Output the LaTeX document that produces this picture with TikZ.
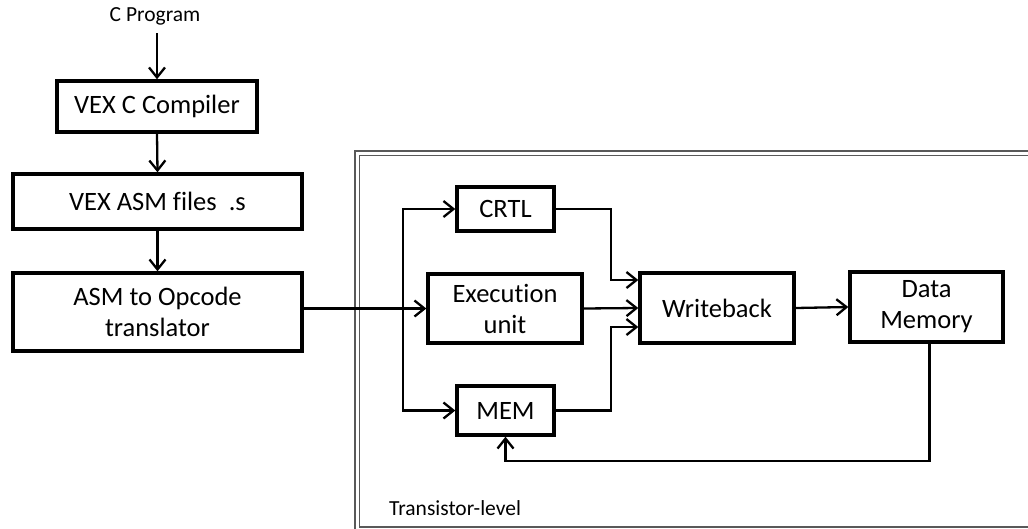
\documentclass[tikz,border=0pt]{standalone}
\usepackage{fontspec}
\setmainfont{Carlito}[Ligatures={NoCommon}]
\usetikzlibrary{arrows.meta}
\begin{document}
\begin{tikzpicture}[x=1pt,y=-1pt,
  blk/.style={draw=black,line width=3.4pt,fill=white,align=center,inner sep=0pt,
    font=\fontsize{26.5}{31}\selectfont},
  lbl/.style={font=\fontsize{21.5}{25}\selectfont,inner sep=0pt},
  arr/.style={line width=2.3pt,-{Straight Barb[length=10pt,width=16pt,line width=2.3pt]}},
  frameline/.style={draw=black!65,line width=1.4pt}]
\useasboundingbox (0,0) rectangle (1028,528);
\begin{scope}
\clip (0,0) rectangle (1028,528);
\draw[frameline] (355,151) rectangle (1040,531);
\draw[frameline] (359.5,155.5) rectangle (1036,527);
\end{scope}
% left chain
\node[lbl,anchor=base] (cprog) at (155,21.5) {C Program};
\coordinate (cpout) at (157,33);
\node[blk,minimum width=200pt,minimum height=51pt] (comp) at (157,106.5) {VEX C Compiler};
\node[blk,minimum width=289pt,minimum height=55pt] (asmf) at (157.5,201.5) {VEX ASM files\ \ .s};
\node[blk,minimum width=289pt,minimum height=78pt] (trans) at (157.5,312) {ASM to Opcode\\translator};
\draw[arr] (cpout) -- (comp.north);
\draw[arr] (comp.south) -- (asmf.north);
\draw[arr] (asmf.south) -- (trans.north);
% transistor level
\node[blk,minimum width=97pt,minimum height=44pt] (crtl) at (505.5,209) {CRTL};
\node[blk,minimum width=154pt,minimum height=69pt] (exec) at (505,308.5) {Execution\\unit};
\node[blk,minimum width=97pt,minimum height=49pt] (mem) at (505.5,410.5) {MEM};
\node[blk,minimum width=154pt,minimum height=70pt] (wb) at (717,308) {Writeback};
\node[blk,minimum width=153pt,minimum height=70pt] (dm) at (926.5,307) {Data\\Memory};
\node[lbl,anchor=base west] (tl) at (389,515) {Transistor-level};
\coordinate (bus) at (403,308.5);
\draw[arr] (trans.east |- exec.west) -- (exec.west);
\draw[arr] (bus) |- (crtl.west);
\draw[arr] (bus) |- (mem.west);
\draw[arr] (crtl.east) -- ++(55,0) |- ([yshift=28pt]wb.west);
\draw[arr] (exec.east) -- (wb.west);
\draw[arr] (mem.east) -- ++(55,0) |- ([yshift=-19pt]wb.west);
\draw[arr] (wb.east) -- (dm.west);
\draw[arr] ([xshift=3pt]dm.south) -- ++(0,117) -| (mem.south);
\end{tikzpicture}
\end{document}
